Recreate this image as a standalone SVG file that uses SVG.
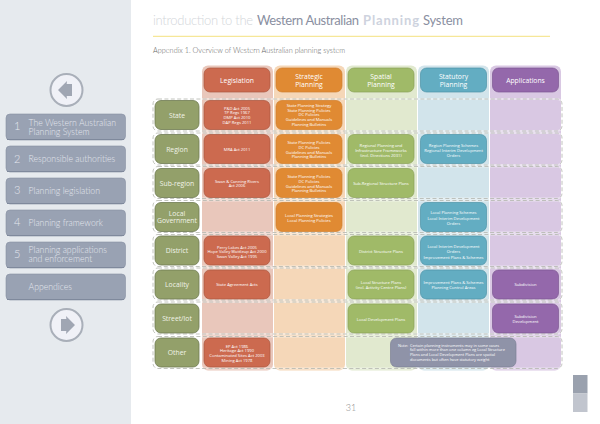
<svg xmlns="http://www.w3.org/2000/svg" width="600" height="424" viewBox="0 0 600 424">
<defs>
<style>
text{font-family:"Open Sans","Liberation Sans",sans-serif;text-anchor:middle;fill:#fff}
.nav text{font-family:Lato,"Liberation Sans",sans-serif;font-size:8.7px;text-anchor:start;fill:#e4e7ee;font-weight:300}
.nav .n{font-size:11px}
.btn{fill:#99a2b3;stroke:#8791a3;stroke-width:.6}
.bev{fill:none;stroke:#7f899c;stroke-width:1}
.hd{font-size:6.800px;font-weight:500}
.rw{font-size:6.800px;font-weight:500;fill:#f1f3e8}
.t{font-size:4.150px;font-weight:500}
.nt{font-size:3.950px;font-weight:500;text-anchor:start}
.dash{fill:none;stroke:#fff;stroke-width:2;stroke-opacity:.45}
.dash2{fill:none;stroke:#b2b5ad;stroke-width:.8;stroke-dasharray:4 2.4}
.leg{fill:#cc6a4f;stroke:#a9563f;stroke-width:.7}
.str{fill:#e08a33;stroke:#d07f2f;stroke-width:.7}
.spa{fill:#a0ba68;stroke:#8ba25a;stroke-width:.7}
.sta{fill:#63adc2;stroke:#4f93a8;stroke-width:.7}
.app{fill:#9468ab;stroke:#7d5792;stroke-width:.7}
.row{fill:#93a06a;stroke:#6f7b52;stroke-width:.8}
.ttl{font-family:Lato,"Liberation Sans",sans-serif;font-size:13px;text-anchor:start}
.circ{fill:#f0f1f7;stroke:#a9afb9;stroke-width:2}
.arr{fill:#a0a6b3}
</style>
<rect id="hb" width="66" height="24" rx="6"/>
<rect id="nb" width="66" height="29" rx="6"/>
<rect id="rb" width="44" height="29" rx="6"/>
<rect id="dr" x="153" width="409" height="32" rx="5"/>
</defs>
<rect width="600" height="424" fill="#fff"/>
<rect width="131" height="424" fill="#e6eaee"/>

<g class="nav">
<g id="prev"><circle class="circ" cx="66.500" cy="90" r="16"/><polygon class="arr" points="58,90 67,81 66,90 67,99"/><polygon class="arr" points="66,84 72,84 72,96 66,96"/></g>
<g id="nav1"><rect class="btn" x="6" y="114" width="119.500" height="26" rx="4"/><path class="bev" d="M7 139.500H124"/><text class="n" x="14" y="130">1</text><text x="28.500" y="125.500">The Western Australian<tspan x="28.500" dy="9">Planning System</tspan></text></g>
<g id="nav2"><rect class="btn" x="6" y="146" width="119.500" height="26" rx="4"/><path class="bev" d="M7 171.500H124"/><text class="n" x="14" y="163">2</text><text x="28.500" y="162">Responsible authorities</text></g>
<g id="nav3"><rect class="btn" x="6" y="178" width="119.500" height="26" rx="4"/><path class="bev" d="M7 203.500H124"/><text class="n" x="14" y="194">3</text><text x="28.500" y="194">Planning legislation</text></g>
<g id="nav4"><rect class="btn" x="6" y="210" width="119.500" height="26" rx="4"/><path class="bev" d="M7 235.500H124"/><text class="n" x="14" y="226">4</text><text x="28.500" y="226">Planning framework</text></g>
<g id="nav5"><rect class="btn" x="6" y="242" width="119.500" height="26" rx="4"/><path class="bev" d="M7 267.500H124"/><text class="n" x="14" y="258">5</text><text x="28.500" y="253">Planning applications<tspan x="28.500" dy="9">and enforcement</tspan></text></g>
<g id="nav6"><rect class="btn" x="6" y="274" width="119.500" height="26" rx="4"/><path class="bev" d="M7 299.500H124"/><text x="28.500" y="289.500">Appendices</text></g>
<g id="next"><circle class="circ" cx="66.500" cy="325" r="16"/><polygon class="arr" points="75,325 66,316 67,325 66,334"/><polygon class="arr" points="61,319 67,319 67,331 61,331"/></g>
</g>

<g id="title">
<text class="ttl" x="153" y="25" fill="#d3d6da" style="fill:#d3d6da;font-weight:300" textLength="100" lengthAdjust="spacing">introduction to the</text>
<text class="ttl" x="257" y="25" style="fill:#8a8fa1" textLength="102" lengthAdjust="spacing">Western Australian</text>
<text class="ttl" x="363" y="25" style="fill:#ced3de;font-weight:700" textLength="56" lengthAdjust="spacing">Planning</text>
<text class="ttl" x="423" y="25" style="fill:#8a8fa1" textLength="40" lengthAdjust="spacing">System</text>
<path d="M153 36.300H550" stroke="#f4e27f" stroke-width="1"/>
<text x="153" y="53" style="font-family:Lato,'Liberation Sans',sans-serif;font-size:7.300px;font-weight:300;text-anchor:start;fill:#666">Appendix 1.  Overview of Western Australian planning system</text>
</g>

<g id="columns">
<rect x="202" y="65.500" width="71" height="305" rx="6" fill="#e9c7bb"/>
<rect x="274" y="65.500" width="71" height="305" rx="6" fill="#f5d7b8"/>
<rect x="346" y="65.500" width="71" height="305" rx="6" fill="#e1e9cf"/>
<rect x="418" y="65.500" width="71" height="305" rx="6" fill="#d2e4eb"/>
<rect x="490" y="65.500" width="71" height="305" rx="6" fill="#d9c8e3"/>
</g>

<g id="connectors">
<g class="dash">
<use href="#dr" y="99"/><use href="#dr" y="133"/><use href="#dr" y="166.500"/><use href="#dr" y="200.500"/><use href="#dr" y="234.500"/><use href="#dr" y="268"/><use href="#dr" y="302"/><use href="#dr" y="336.500"/>
</g>
<g class="dash2">
<use href="#dr" y="99"/><use href="#dr" y="133"/><use href="#dr" y="166.500"/><use href="#dr" y="200.500"/><use href="#dr" y="234.500"/><use href="#dr" y="268"/><use href="#dr" y="302"/><use href="#dr" y="336.500"/>
</g>
</g>

<g id="h1"><use href="#hb" class="leg" x="204" y="68"/><text class="hd" x="237" y="82.500">Legislation</text></g>
<g id="h2"><use href="#hb" class="str" x="276" y="68"/><text class="hd" x="309" y="78.500">Strategic</text><text class="hd" x="309" y="86.500">Planning</text></g>
<g id="h3"><use href="#hb" class="spa" x="348" y="68"/><text class="hd" x="381" y="78.500">Spatial</text><text class="hd" x="381" y="86.500">Planning</text></g>
<g id="h4"><use href="#hb" class="sta" x="420.500" y="68"/><text class="hd" x="453.500" y="78.500">Statutory</text><text class="hd" x="453.500" y="86.500">Planning</text></g>
<g id="h5"><use href="#hb" class="app" x="492.500" y="68"/><text class="hd" x="525.500" y="82.500">Applications</text></g>

<g id="r1"><use href="#rb" class="row" x="155" y="100.500"/><text class="rw" x="177" y="118">State</text></g>
<g id="r2"><use href="#rb" class="row" x="155" y="134.500"/><text class="rw" x="177" y="152">Region</text></g>
<g id="r3"><use href="#rb" class="row" x="155" y="168.500"/><text class="rw" x="177" y="185.500">Sub-region</text></g>
<g id="r4"><use href="#rb" class="row" x="155" y="202.500"/><text class="rw" x="177" y="215.500">Local<tspan x="177" dy="7">Government</tspan></text></g>
<g id="r5"><use href="#rb" class="row" x="155" y="236"/><text class="rw" x="177" y="253">District</text></g>
<g id="r6"><use href="#rb" class="row" x="155" y="270"/><text class="rw" x="177" y="287">Locality</text></g>
<g id="r7"><use href="#rb" class="row" x="155" y="304"/><text class="rw" x="177" y="321">Street/lot</text></g>
<g id="r8"><use href="#rb" class="row" x="155" y="338"/><text class="rw" x="177" y="355">Other</text></g>

<g id="leg1"><use href="#nb" class="leg" x="204" y="100.500"/><text class="t" x="237" y="109.500">P&amp;D Act 2005</text><text class="t" x="237" y="114">TP Regs 1967</text><text class="t" x="237" y="119">DMP Act 2010</text><text class="t" x="237" y="123.500">DAP Regs 2011</text></g>
<g id="leg2"><use href="#nb" class="leg" x="204" y="134.500"/><text class="t" x="237" y="151">MRA Act 2011</text></g>
<g id="leg3"><use href="#nb" class="leg" x="204" y="168.500"/><text class="t" x="237" y="182.500">Swan &amp; Canning Rivers</text><text class="t" x="237" y="187">Act 2006</text></g>
<g id="leg5"><use href="#nb" class="leg" x="204" y="236"/><text class="t" x="237" y="248.500">Perry Lakes Act 2005</text><text class="t" x="237" y="253">Hope Valley Wattleup Act 2000</text><text class="t" x="237" y="258">Swan Valley Act 1995</text></g>
<g id="leg6"><use href="#nb" class="leg" x="204" y="270"/><text class="t" x="237" y="286">State Agreement Acts</text></g>
<g id="leg8"><use href="#nb" class="leg" x="204" y="338"/><text class="t" x="237" y="347.500">EP Act 1986</text><text class="t" x="237" y="352">Heritage Act 1990</text><text class="t" x="237" y="356.500">Contaminated Sites Act 2003</text><text class="t" x="237" y="361.500">Mining Act 1978</text></g>

<g id="str1"><use href="#nb" class="str" x="276" y="100.500"/><text class="t" x="309" y="107">State Planning Strategy</text><text class="t" x="309" y="111.500">State Planning Policies</text><text class="t" x="309" y="116">DC Policies</text><text class="t" x="309" y="121">Guidelines and Manuals</text><text class="t" x="309" y="125.500">Planning Bulletins</text></g>
<g id="str2"><use href="#nb" class="str" x="276" y="134.500"/><text class="t" x="309" y="144">State Planning Policies</text><text class="t" x="309" y="148.500">DC Policies</text><text class="t" x="309" y="153.500">Guidelines and Manuals</text><text class="t" x="309" y="158">Planning Bulletins</text></g>
<g id="str3"><use href="#nb" class="str" x="276" y="168.500"/><text class="t" x="309" y="178">State Planning Policies</text><text class="t" x="309" y="182.500">DC Policies</text><text class="t" x="309" y="187.500">Guidelines and Manuals</text><text class="t" x="309" y="192">Planning Bulletins</text></g>
<g id="str4"><use href="#nb" class="str" x="276" y="202.500"/><text class="t" x="309" y="217">Local Planning Strategies</text><text class="t" x="309" y="221.500">Local Planning Policies</text></g>

<g id="spa2"><use href="#nb" class="spa" x="348" y="134.500"/><text class="t" x="381" y="147">Regional Planning and</text><text class="t" x="381" y="151.500">Infrastructure Frameworks</text><text class="t" x="381" y="156.500">(incl. Directions 2031)</text></g>
<g id="spa3"><use href="#nb" class="spa" x="348" y="168.500"/><text class="t" x="381" y="185">Sub-Regional Structure Plans</text></g>
<g id="spa5"><use href="#nb" class="spa" x="348" y="236"/><text class="t" x="381" y="252.500">District Structure Plans</text></g>
<g id="spa6"><use href="#nb" class="spa" x="348" y="270"/><text class="t" x="381" y="284">Local Structure Plans</text><text class="t" x="381" y="289">(incl. Activity Centre Plans)</text></g>
<g id="spa7"><use href="#nb" class="spa" x="348" y="304"/><text class="t" x="381" y="320.500">Local Development Plans</text></g>

<g id="sta2"><use href="#nb" class="sta" x="420.500" y="134.500"/><text class="t" x="453.500" y="147">Region Planning Schemes</text><text class="t" x="453.500" y="151.500">Regional Interim Development</text><text class="t" x="453.500" y="156.500">Orders</text></g>
<g id="sta4"><use href="#nb" class="sta" x="420.500" y="202.500"/><text class="t" x="453.500" y="214">Local Planning Schemes</text><text class="t" x="453.500" y="220">Local Interim Development</text><text class="t" x="453.500" y="224.500">Orders</text></g>
<g id="sta5"><use href="#nb" class="sta" x="420.500" y="236"/><text class="t" x="453.500" y="248">Local Interim Development</text><text class="t" x="453.500" y="252.500">Orders</text><text class="t" x="453.500" y="258.500">Improvement Plans &amp; Schemes</text></g>
<g id="sta6"><use href="#nb" class="sta" x="420.500" y="270"/><text class="t" x="453.500" y="284">Improvement Plans &amp; Schemes</text><text class="t" x="453.500" y="289">Planning Control Areas</text></g>

<g id="app6"><use href="#nb" class="app" x="492.500" y="270"/><text class="t" x="525.500" y="286">Subdivision</text></g>
<g id="app7"><use href="#nb" class="app" x="492.500" y="304"/><text class="t" x="525.500" y="318">Subdivision</text><text class="t" x="525.500" y="323">Development</text></g>

<g id="note"><rect x="390.500" y="338" width="125.500" height="29" rx="6" fill="#8f93a8" stroke="#7d8196" stroke-width=".7"/>
<text class="nt" x="398" y="346.500">Note:</text>
<text class="nt" x="410" y="346.500">Certain planning instruments may in some cases</text><text class="nt" x="410" y="351">fall within more than one column eg Local Structure</text><text class="nt" x="410" y="356">Plans and Local Development Plans are spatial</text><text class="nt" x="410" y="360.500">documents but often have statutory weight</text></g>

<g id="footer">
<text x="351" y="411" style="font-family:Lato,'Liberation Sans',sans-serif;font-size:9px;font-weight:300;fill:#888">31</text>
<rect x="573" y="375" width="14.500" height="18.500" fill="#9aa1ae"/>
<rect x="573" y="393.500" width="14.500" height="18.500" fill="#c1c5ce"/>
</g>
</svg>
